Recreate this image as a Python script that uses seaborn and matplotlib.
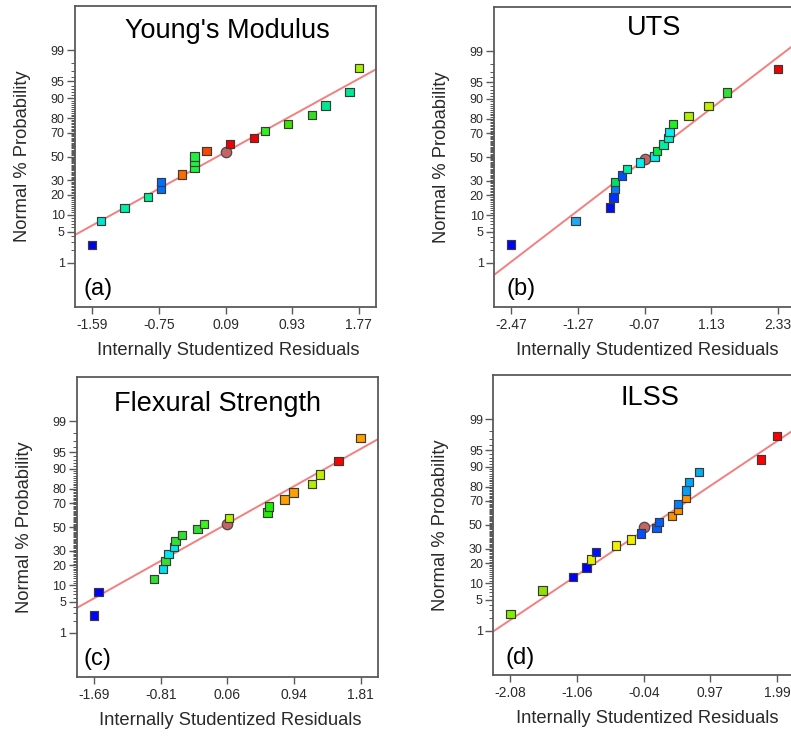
import numpy as np
import pandas as pd
import matplotlib
matplotlib.use("Agg")
import matplotlib.pyplot as plt
import seaborn as sns
from statistics import NormalDist
from matplotlib.ticker import FixedLocator, FixedFormatter

# ---------------------------------------------------------------------------
# Residual data for the four responses (internally studentized residual,
# normal % probability, marker colour)
# ---------------------------------------------------------------------------
ym_resid = [-1.59, -1.48, -1.18, -0.89, -0.72, -0.72, -0.46, -0.30, -0.30, -0.30,
            -0.15, 0.15, 0.45, 0.59, 0.88, 1.18, 1.35, 1.65, 1.77]
ym_prob = [2.6, 7.9, 13.0, 18.6, 23.9, 29.0, 34.6, 39.9, 45.0, 50.0,
           55.0, 60.7, 66.0, 71.0, 76.4, 81.8, 86.9, 92.1, 97.4]
ym_color = ["#0000e8", "#00e5d0", "#00f0a8", "#00f098", "#0070ff", "#0070ff",
            "#ff6a00", "#20f040", "#20f040", "#20f040", "#ff4500", "#f00000",
            "#f00000", "#30f020", "#40e000", "#30e020", "#00e890", "#00e890",
            "#a8f000"]
ym_sel = (0.09, 53.5)

uts_resid = [-2.47, -1.31, -0.69, -0.63, -0.60, -0.60, -0.48, -0.39, -0.15, 0.11,
             0.16, 0.27, 0.36, 0.38, 0.44, 0.72, 1.08, 1.42, 2.33]
uts_prob = [2.7, 8.0, 13.3, 18.6, 23.9, 29.1, 34.3, 39.6, 45.3, 50.3,
            55.5, 60.7, 66.2, 71.1, 76.4, 81.8, 87.0, 92.2, 97.4]
uts_color = ["#0000ff", "#20a8f0", "#0010f0", "#0030ff", "#0080ff", "#00e060",
             "#0050ff", "#00f0a0", "#00f0f0", "#00f0f0", "#00f040", "#00f0a0",
             "#00f0c8", "#00f0f0", "#20f020", "#b0f000", "#c0f000", "#30e030",
             "#f00000"]
uts_sel = (-0.07, 48.0)

fs_resid = [-1.69, -1.63, -0.90, -0.78, -0.75, -0.71, -0.64, -0.62, -0.53, -0.33,
            -0.24, 0.08, 0.59, 0.61, 0.81, 0.93, 1.17, 1.28, 1.52, 1.81]
fs_prob = [2.6, 7.6, 12.7, 17.9, 22.6, 27.7, 32.8, 37.9, 43.0, 48.0,
           52.6, 58.1, 62.6, 67.3, 72.8, 77.6, 82.7, 87.6, 92.6, 97.5]
fs_color = ["#0000ff", "#0000ff", "#30e030", "#00e0f0", "#30e030", "#00e8f0",
            "#00e8f0", "#30e030", "#30e030", "#30e030", "#40f020", "#b0f000",
            "#20f000", "#20f000", "#ffa000", "#ffa000", "#b0f000", "#c0f000",
            "#ff0000", "#ffa000"]
fs_sel = (0.06, 52.3)

ilss_resid = [-2.08, -1.59, -1.12, -0.92, -0.85, -0.77, -0.47, -0.24, -0.09, 0.15,
              0.19, 0.39, 0.48, 0.48, 0.60, 0.60, 0.64, 0.80, 1.74, 1.99]
ilss_prob = [2.5, 7.5, 12.6, 17.5, 22.4, 27.5, 32.5, 37.4, 42.5, 47.4,
             52.3, 57.5, 62.6, 67.5, 72.5, 77.4, 82.5, 87.6, 92.5, 97.5]
ilss_color = ["#80f000", "#90e000", "#0000ff", "#0000ff", "#e0f000", "#0010ff",
              "#f0f000", "#f0f000", "#0050ff", "#0060ff", "#0060ff", "#ff9000",
              "#ff9000", "#0080ff", "#ff9000", "#00a0ff", "#00a8ff", "#00b0f0",
              "#ff0000", "#ff0000"]
ilss_sel = (-0.04, 48.5)

# tick labels on the residual axes
ym_xticks = ["-1.59", "-0.75", "0.09", "0.93", "1.77"]
uts_xticks = ["-2.47", "-1.27", "-0.07", "1.13", "2.33"]
fs_xticks = ["-1.69", "-0.81", "0.06", "0.94", "1.81"]
ilss_xticks = ["-2.08", "-1.06", "-0.04", "0.97", "1.99"]

# reference normal line: z = slope * residual + intercept
line_slope = [0.958, 0.938, 0.938, 0.966]
line_intercept = [0.01, 0.01, 0.017, -0.08]

titles = ["Young's Modulus", "UTS", "Flexural Strength", "ILSS"]
panel_tags = ["(a)", "(b)", "(c)", "(d)"]

prob_major = [1, 5, 10, 20, 30, 50, 70, 80, 90, 95, 99]

# ---------------------------------------------------------------------------
# normal-probability axis
# ---------------------------------------------------------------------------
_nd = NormalDist()


def prob_to_z(p):
    p = np.clip(np.asarray(p, dtype=float) / 100.0, 1e-12, 1 - 1e-12)
    return np.vectorize(_nd.inv_cdf, otypes=[float])(p)


def z_to_prob(z):
    return np.vectorize(_nd.cdf, otypes=[float])(np.asarray(z, dtype=float)) * 100.0


sns.set_style("white")
plt.rcParams["font.family"] = ["Liberation Sans", "DejaVu Sans"]

W, H = 791, 736
fig = plt.figure(figsize=(W / 100, H / 100), dpi=100)

# axes boxes in pixels: left, top, width, height
boxes = [(75, 6, 301, 301), (494, 7, 301, 300),
         (76.7, 376.7, 301, 300.6), (493.3, 374.7, 301, 300.3)]
title_pos = [(0.507, 0.916), (0.532, 0.930), (0.469, 0.908), (0.519, 0.922)]
tag_pos = [(0.027, 0.06), (0.040, 0.06), (0.021, 0.06), (0.042, 0.058)]

panels = [
    (ym_resid, ym_prob, ym_color, ym_sel, ym_xticks),
    (uts_resid, uts_prob, uts_color, uts_sel, uts_xticks),
    (fs_resid, fs_prob, fs_color, fs_sel, fs_xticks),
    (ilss_resid, ilss_prob, ilss_color, ilss_sel, ilss_xticks),
]

spine_col = "#5a5a5a"
text_col = "#2a2a2a"

for i, (resid, prob, cols, sel, xt) in enumerate(panels):
    l, t, w, h = boxes[i]
    ax = fig.add_axes([l / W, 1 - (t + h) / H, w / W, h / H])
    ax.set_yscale("function", functions=(prob_to_z, z_to_prob))

    xt_vals = [float(v) for v in xt]
    span = xt_vals[-1] - xt_vals[0]
    x0, x1 = xt_vals[0] - 0.064 * span, xt_vals[-1] + 0.064 * span
    x_line = np.array([x0, x1])
    p_line = z_to_prob(line_slope[i] * x_line + line_intercept[i])
    sns.lineplot(x=x_line, y=p_line, color="#f57f7f", linewidth=1.4,
                 ax=ax, zorder=2)

    sns.scatterplot(x=[sel[0]], y=[sel[1]], marker="o", s=56,
                    color="#c46464", edgecolor="#4a4a4a", linewidth=0.9,
                    ax=ax, zorder=3, legend=False)

    df = pd.DataFrame({"resid": resid, "prob": prob,
                       "pt": [f"r{k}" for k in range(len(resid))]})
    sns.scatterplot(data=df, x="resid", y="prob", hue="pt", palette=cols,
                    marker="s", s=36, edgecolor="#3a3a3a", linewidth=0.85,
                    legend=False, ax=ax, zorder=4)

    ax.set_xlim(x0, x1)
    ax.set_ylim(z_to_prob(-3.3), z_to_prob(3.3))

    ax.xaxis.set_major_locator(FixedLocator(xt_vals))
    ax.xaxis.set_major_formatter(FixedFormatter(xt))
    ax.yaxis.set_major_locator(FixedLocator(prob_major))
    ax.yaxis.set_major_formatter(FixedFormatter([str(v) for v in prob_major]))
    ax.yaxis.set_minor_locator(FixedLocator(
        [v for v in range(1, 100) if v not in prob_major]))

    ax.tick_params(axis="x", which="major", direction="out", length=5,
                   width=1.0, color=spine_col, labelsize=10, pad=3,
                   labelcolor=text_col, bottom=True)
    ax.tick_params(axis="y", which="major", direction="out", length=5.5,
                   width=1.0, color=spine_col, labelsize=9, pad=2,
                   labelcolor=text_col, left=True)
    ax.tick_params(axis="y", which="minor", direction="out", length=3,
                   width=0.6, color="#3a3a3a", left=True)

    for sp in ax.spines.values():
        sp.set_color(spine_col)
        sp.set_linewidth(1.3)

    ax.set_xlabel("Internally Studentized Residuals", fontsize=13.2,
                  color=text_col, va="center")
    ax.xaxis.set_label_coords(0.51, -0.145)
    ax.set_ylabel("Normal % Probability", fontsize=13.2, color=text_col,
                  va="center")
    ax.yaxis.set_label_coords(-0.175, 0.5)

    ax.text(*title_pos[i], titles[i], transform=ax.transAxes, ha="center",
            va="center", fontsize=19.5, color="black")
    ax.text(*tag_pos[i], panel_tags[i], transform=ax.transAxes, ha="left",
            va="center", fontsize=17, color="black")

fig.savefig("out.png", dpi=100)
